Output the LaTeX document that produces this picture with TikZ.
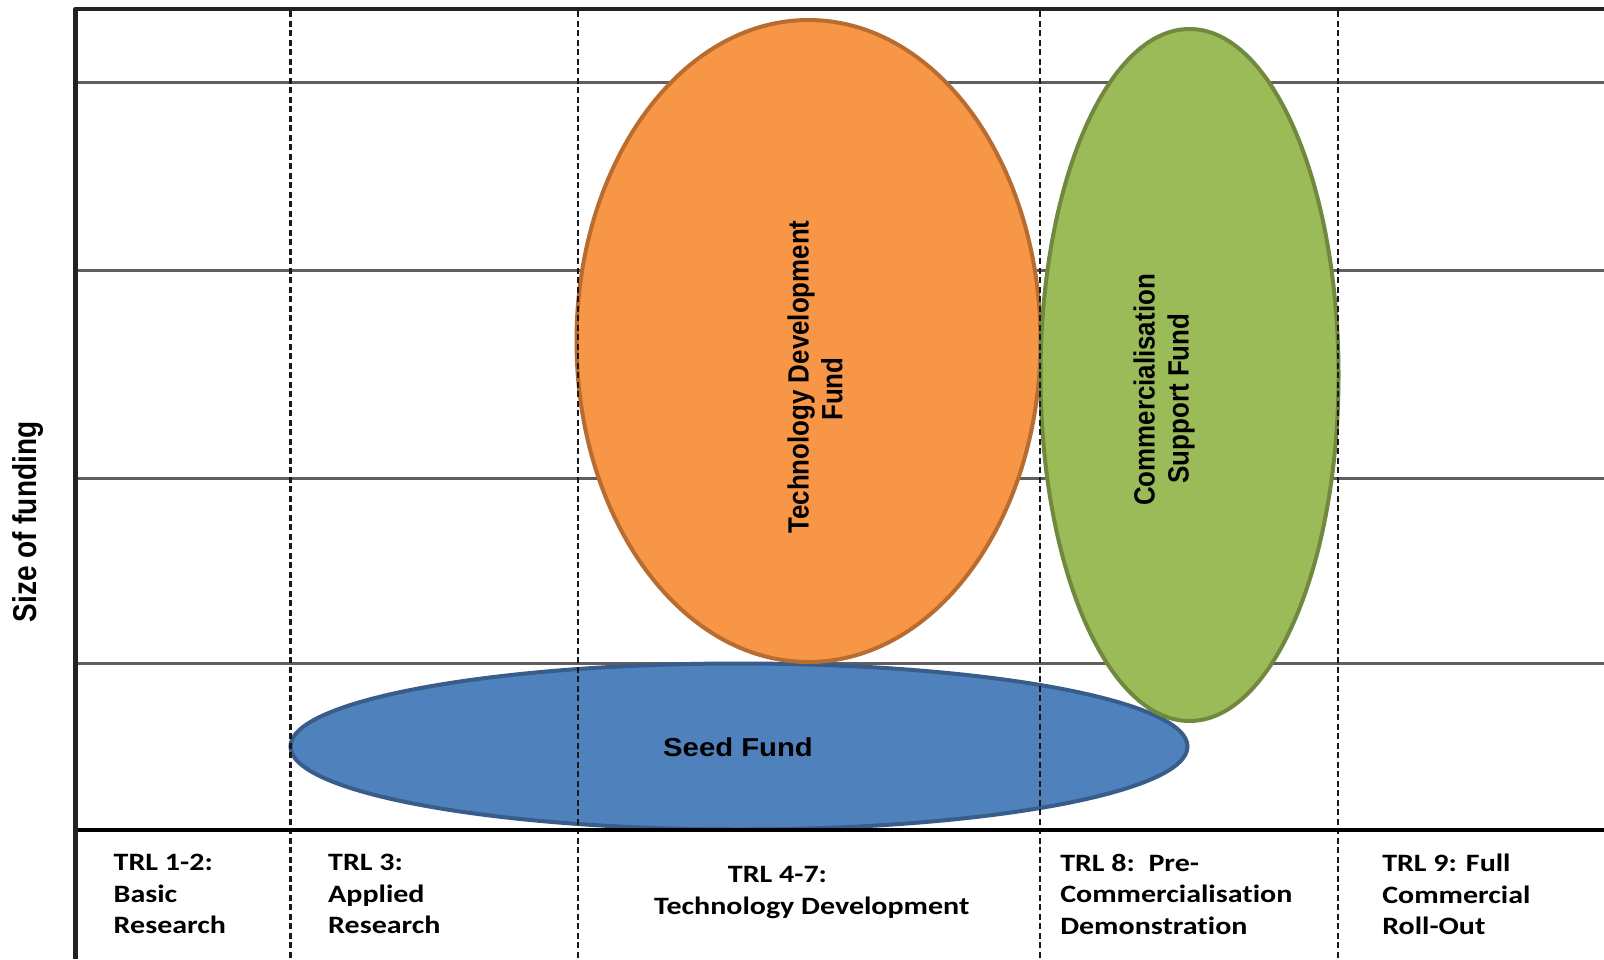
\documentclass[tikz,border=0pt]{standalone}
\usepackage{fontspec}
\setmainfont{Liberation Sans}
\newfontfamily\calib[Ligatures=NoCommon]{Carlito}
\definecolor{gridgray}{HTML}{5F5F5F}
\definecolor{axisblack}{HTML}{222222}
\definecolor{orfill}{HTML}{F79646}
\definecolor{orline}{HTML}{B86C30}
\definecolor{grfill}{HTML}{9BBB59}
\definecolor{grline}{HTML}{71893F}
\definecolor{blfill}{HTML}{4F81BD}
\definecolor{blline}{HTML}{385D8A}
\begin{document}
\begin{tikzpicture}[x=1pt,y=-1pt,
  gridline/.style={draw=gridgray, line width=3pt},
  axisline/.style={draw=axisblack, line width=4.5pt},
  phase/.style={draw=black!90, line width=2.2pt, dash pattern=on 6pt off 3.5pt},
  fund/.style={line width=4pt},
  fundlbl/.style={font=\bfseries\fontsize{25.9}{30}\selectfont, align=center, inner sep=0pt, xscale=1.13, rotate=90},
  trl/.style={font=\calib\bfseries\fontsize{25}{31.5}\selectfont, align=left, inner sep=0pt, anchor=north west, xscale=1.2},
]
\useasboundingbox (0,0) rectangle (1604,959);
\fill[white] (0,0) rectangle (1604,959);
% grid lines
\coordinate (g1l) at (78,82);  \coordinate (g1r) at (1604,82);
\coordinate (g2l) at (78,270); \coordinate (g2r) at (1604,270);
\coordinate (g3l) at (78,478); \coordinate (g3r) at (1604,478);
\coordinate (g4l) at (78,663); \coordinate (g4r) at (1604,663);
\draw[gridline] (g1l) -- (g1r);
\draw[gridline] (g2l) -- (g2r);
\draw[gridline] (g3l) -- (g3r);
\draw[gridline] (g4l) -- (g4r);
% funds
\draw[fund, fill=blfill, draw=blline] (739,746.5) ellipse [x radius=448.5, y radius=83];
\draw[fund, fill=orfill, draw=orline] (808.5,341) ellipse [x radius=232, y radius=321];
\draw[fund, fill=grfill, draw=grline] (1189.5,375) ellipse [x radius=149, y radius=346];
% phase separators
\coordinate (d1t) at (290.5,11); \coordinate (d1b) at (290.5,959);
\coordinate (d2t) at (578,11);   \coordinate (d2b) at (578,959);
\coordinate (d3t) at (1040,11);  \coordinate (d3b) at (1040,959);
\coordinate (d4t) at (1338,11);  \coordinate (d4b) at (1338,959);
\draw[phase] (d1t) -- (d1b);
\draw[phase] (d2t) -- (d2b);
\draw[phase] (d3t) -- (d3b);
\draw[phase] (d4t) -- (d4b);
% axes
\coordinate (ax0) at (75.5,959);
\coordinate (ax1) at (75.5,9);
\coordinate (ax2) at (1604,9);
\coordinate (bx0) at (78,830);
\coordinate (bx1) at (1604,830);
\draw[axisline, line join=round] (ax0) -- (ax1) -- (ax2);
\draw[draw=black, line width=4pt] (bx0) -- (bx1);
% fund labels
\node[fundlbl] (tdf) at (815,377) {Technology Development\\Fund\hspace*{24pt}};
\node[fundlbl] (csf) at (1164,390) {Commercialisation\\Support Fund\hspace*{17pt}};
\node[font=\bfseries\fontsize{25.9}{30}\selectfont, inner sep=0pt, xscale=1.13] (sf) at (738,747) {Seed Fund};
\node[font=\bfseries\fontsize{28}{30}\selectfont, inner sep=0pt, xscale=1.18, rotate=90] (yl) at (28,522) {Size of funding};
% phase labels
\node[trl] (p1) at (113.5,854) {TRL 1-2:\\Basic\\Research};
\node[trl] (p2) at (328,854) {TRL 3:\\Applied\\Research};
\node[trl] (p3) at (654,866.5) {\hspace*{61.4pt}TRL 4-7:\\Technology Development};
\node[trl] (p4) at (1060,854) {TRL 8:\ \ Pre-\\Commercialisation\\Demonstration};
\node[trl] (p5) at (1382,854) {TRL 9: Full\\Commercial\\Roll-Out};
\end{tikzpicture}
\end{document}
